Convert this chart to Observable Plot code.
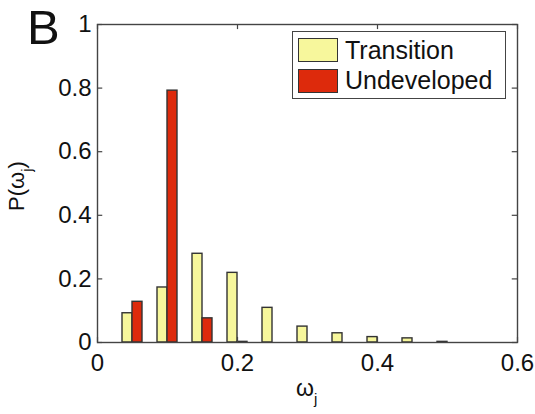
<!DOCTYPE html>
<html>
<head>
<meta charset="utf-8">
<script src="https://cdn.jsdelivr.net/npm/d3@7"></script>
<script src="https://cdn.jsdelivr.net/npm/@observablehq/plot@0.6"></script>
<style>
  html, body { margin: 0; padding: 0; background: #fff; }
  #wrap { position: relative; width: 535px; height: 414px; font-family: "Liberation Sans", Arial, sans-serif; color: #111; }
  #wrap svg { position: absolute; left: 0; top: 0; }
  .ov { position: absolute; white-space: nowrap; line-height: 1.1; }
  #legend { position: absolute; left: 292px; top: 31px; width: 214px; height: 68px; border: 1.5px solid #444; background: #fff; box-sizing: border-box; }
  .lrow { position: absolute; left: 5px; height: 25px; display: flex; align-items: center; font-size: 25px; }
  .sw { width: 40px; height: 24px; border: 1.5px solid #333; box-sizing: border-box; margin-right: 7px; }
</style>
</head>
<body>
<div id="wrap"></div>
<script>
const centers = [0.05, 0.10, 0.15, 0.20, 0.25, 0.30, 0.35, 0.40, 0.45, 0.50];
const transition = [0.092, 0.173, 0.279, 0.219, 0.109, 0.050, 0.029, 0.017, 0.013, 0.002];
const undeveloped = [0.128, 0.792, 0.076, 0.002, 0, 0, 0, 0, 0, 0];
const seriesNames = ["Transition", "Undeveloped"];
const seriesColors = ["#f7f79c", "#dd2a0c"];
const xTicks = [0, 0.2, 0.4, 0.6];
const yTicks = [0, 0.2, 0.4, 0.6, 0.8, 1];

const halfGroup = 0.05 * (2 / 3.5) / 2; // bar width in data units

const rows = [];
centers.forEach((c, i) => {
  rows.push({series: seriesNames[0], x1: c - halfGroup, x2: c, y: transition[i]});
  rows.push({series: seriesNames[1], x1: c, x2: c + halfGroup, y: undeveloped[i]});
});

const chart = Plot.plot({
  width: 535,
  height: 414,
  marginLeft: 97,
  marginRight: 18,
  marginTop: 24,
  marginBottom: 72,
  style: {fontFamily: "Liberation Sans, Arial, sans-serif", fontSize: "24px", color: "#111", background: "transparent"},
  x: {domain: [0, 0.6], ticks: xTicks, label: null},
  y: {domain: [0, 1], ticks: yTicks, label: null},
  color: {domain: seriesNames, range: seriesColors},
  marks: [
    Plot.rectY(rows.filter(d => d.y > 0), {x1: "x1", x2: "x2", y1: 0, y2: "y", fill: "series", stroke: "#333", strokeWidth: 1.4}),
    // inward ticks on all four sides
    Plot.ruleX(xTicks, {x: d => d, y1: 0, y2: 0.016, stroke: "#444", strokeWidth: 1.2}),
    Plot.ruleX(xTicks, {x: d => d, y1: 1, y2: 1 - 0.016, stroke: "#444", strokeWidth: 1.2}),
    Plot.ruleY(yTicks, {y: d => d, x1: 0, x2: 0.0075, stroke: "#444", strokeWidth: 1.2}),
    Plot.ruleY(yTicks, {y: d => d, x1: 0.6, x2: 0.6 - 0.0075, stroke: "#444", strokeWidth: 1.2}),
    Plot.frame({stroke: "#444", strokeWidth: 1.4}),
    Plot.axisX({ticks: xTicks, tickSize: 0, tickPadding: 11, tickFormat: d => String(d), label: null, fontSize: 24}),
    Plot.axisY({ticks: yTicks, tickSize: 0, tickPadding: 6, tickFormat: d => String(d), label: null, fontSize: 24})
  ]
});

const wrap = document.getElementById("wrap");
wrap.appendChild(chart);

function ov(html, css) {
  const d = document.createElement("div");
  d.className = "ov";
  d.innerHTML = html;
  Object.assign(d.style, css);
  wrap.appendChild(d);
  return d;
}

ov("B", {left: "27px", top: "1px", fontSize: "49px"});
ov('ω<sub style="font-size:15px;vertical-align:-8px">j</sub>', {left: "296px", top: "376px", fontSize: "23px"});
ov('P(ω<sub style="font-size:15px;vertical-align:-8px">j</sub>)', {left: "20px", top: "186px", fontSize: "22px", transform: "translate(-50%,-50%) rotate(-90deg)"});

const legend = document.createElement("div");
legend.id = "legend";
seriesNames.forEach((name, i) => {
  const r = document.createElement("div");
  r.className = "lrow";
  r.style.top = (i === 0 ? 5.5 : 36) + "px";
  r.innerHTML = `<div class="sw" style="background:${seriesColors[i]}"></div><span>${name}</span>`;
  legend.appendChild(r);
});
wrap.appendChild(legend);
</script>
</body>
</html>
